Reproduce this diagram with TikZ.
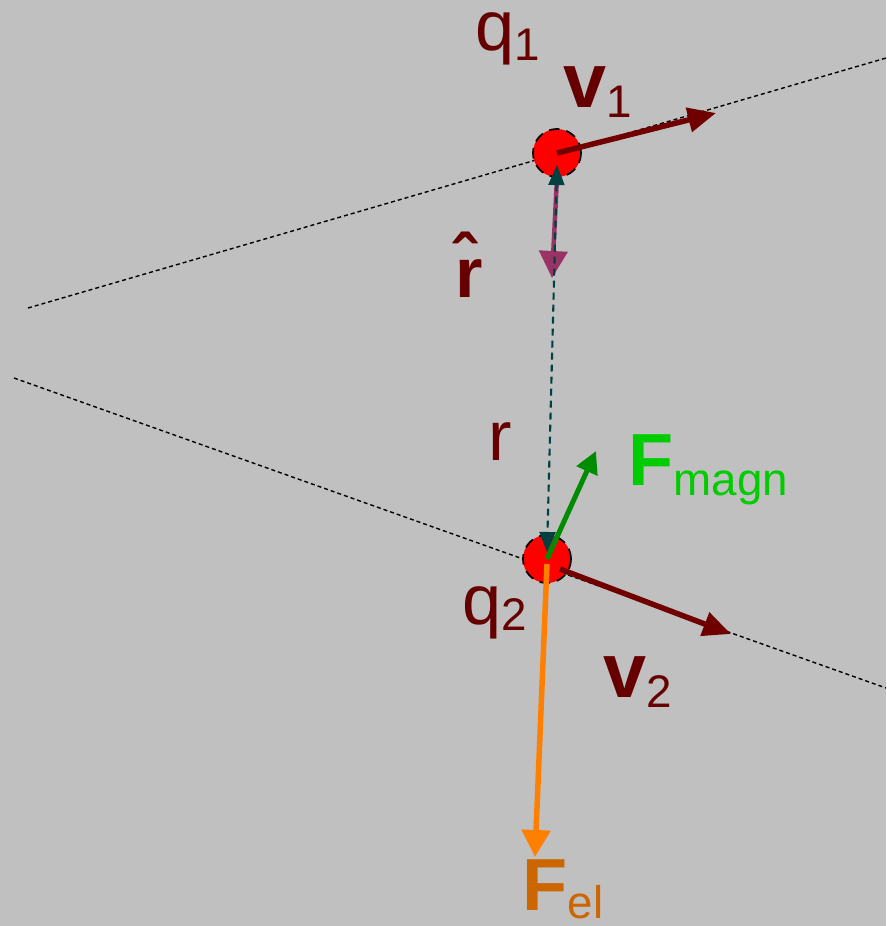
\documentclass[tikz,border=0pt]{standalone}
\usepackage{fontspec}
\setmainfont{Liberation Sans}
\usepackage{xcolor}
\usetikzlibrary{arrows.meta,positioning}

\definecolor{bggray}{HTML}{C0C0C0}
\definecolor{darkred}{HTML}{660000}
\definecolor{arrowred}{HTML}{700000}
\definecolor{rhatpink}{HTML}{993366}
\definecolor{septeal}{HTML}{004040}
\definecolor{magngreen}{HTML}{008C00}
\definecolor{magntext}{HTML}{00CC00}
\definecolor{elorange}{HTML}{FF8000}
\definecolor{eltext}{HTML}{CC6600}

\newcommand{\lbl}[3][0.1cm]{#2\raisebox{-#1}{\fontsize{13}{13}\selectfont\mdseries #3}}

\begin{document}
\begin{tikzpicture}[
            x=0.01cm,y=-0.01cm,
            charge/.style={circle,fill=red,draw=black,densely dashed,line width=0.5pt,minimum size=0.48cm,inner sep=0pt},
            path/.style={draw=black,line width=0.4pt,dash pattern=on 0.04cm off 0.03cm},
            label/.style={anchor=base west,inner sep=0pt,text=darkred},
            vec/.style={-{Triangle[length=0.28cm,width=0.24cm]},line width=0.055cm,arrowred},
            sep/.style={{Triangle[length=0.2cm,width=0.16cm]}-{Triangle[length=0.2cm,width=0.16cm]},septeal,line width=0.6pt,dash pattern=on 0.07cm off 0.05cm}
        ]
            \fill[bggray] (0,0) rectangle (886,926);
            % trajectories
            \coordinate (p1a) at (28,308);
            \coordinate (p1b) at (886,58);
            \coordinate (p2a) at (14,378);
            \coordinate (p2b) at (886,688);
            \draw[path] (p1a) -- (p1b);
            \draw[path] (p2a) -- (p2b);
            % charges
            \node[charge] (q1) at (557,153) {};
            \node[charge] (q2) at (547,559) {};
            \coordinate (v1end) at (716,113);
            \coordinate (v2end) at (731,634);
            \coordinate (rhatend) at (552,278);
            \coordinate (magnend) at (596,451);
            \coordinate (elend) at (535,857);
            \draw[-{Triangle[length=0.27cm,width=0.28cm]},rhatpink,line width=0.045cm] (q1.south) -- (rhatend);
            \draw[sep] ([yshift=-0.12cm]q1.center) -- ([yshift=0.07cm]q2.center);
            \draw[-{Triangle[length=0.22cm,width=0.22cm]},magngreen,line width=0.05cm] (q2.center) -- (magnend);
            \draw[-{Triangle[length=0.27cm,width=0.28cm]},elorange,line width=0.055cm] ([yshift=-0.05cm]q2.center) -- (elend);
            \draw[vec] (q1.center) -- (v1end);
            \draw[vec] ([shift={(0.13cm,-0.1cm)}]q2.center) -- (v2end);
            % labels
            \node[label,font=\fontsize{20}{20}\selectfont,text height=0.4cm] (q1lbl) at (475,50) {\lbl{q}{1}};
            \node[label,font=\fontsize{22}{22}\selectfont\bfseries] (v1lbl) at (563,107) {\lbl{v}{1}};
            \node[label,font=\fontsize{20}{20}\selectfont\bfseries] (rhatlbl) at (455,297) {\^{r}};
            \node[label,font=\fontsize{20}{20}\selectfont] (rlbl) at (488,460) {r};
            \node[label,font=\fontsize{21}{21}\selectfont\bfseries,text=magntext] (magnlbl) at (628,485) {\lbl{F}{magn}};
            \node[label,font=\fontsize{20}{20}\selectfont] (q2lbl) at (462,624) {\lbl[0.06cm]{q}{2}};
            \node[label,font=\fontsize{22}{22}\selectfont\bfseries] (v2lbl) at (603,697) {\lbl{v}{2}};
            \node[label,font=\fontsize{21}{21}\selectfont\bfseries,text=eltext] (ellbl) at (522,910) {\lbl[0.08cm]{F}{el}};
        \end{tikzpicture}
\end{document}
